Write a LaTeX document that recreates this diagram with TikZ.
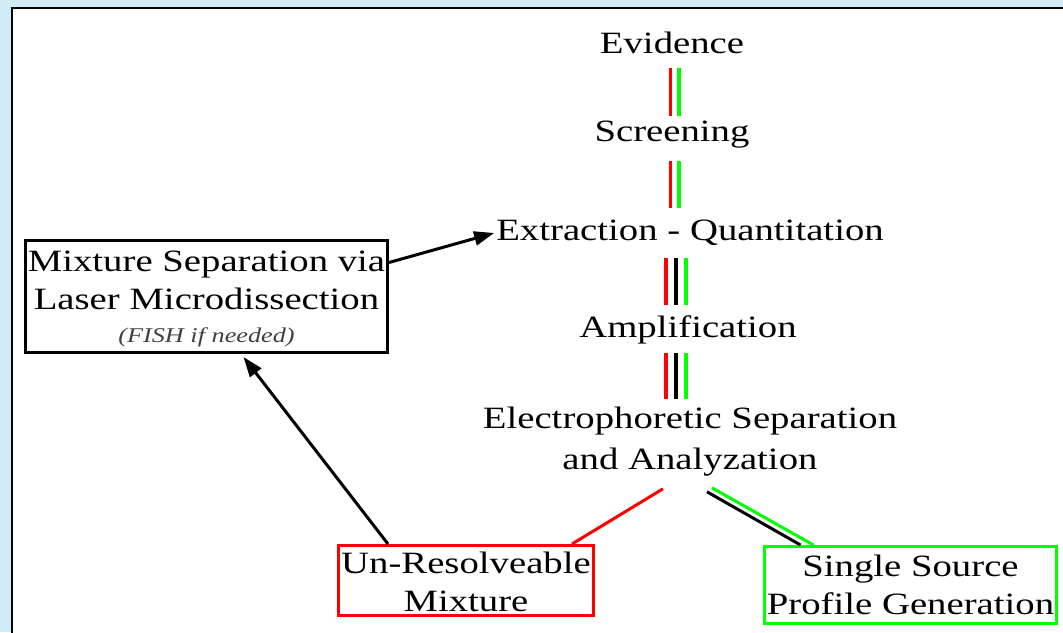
\documentclass[tikz,border=0pt]{standalone}
\usepackage{fontspec}
\setmainfont[FakeStretch=1.25]{Liberation Serif}
\usetikzlibrary{arrows.meta}

\definecolor{framebg}{RGB}{208,235,243}
\definecolor{railred}{RGB}{255,0,0}
\definecolor{railgreen}{RGB}{0,255,0}

\tikzset{
  stage/.style={font=\fontsize{31}{38}\selectfont, inner sep=0pt,
    text height=20pt, text depth=6pt},
  outcome/.style={draw, line width=3pt, align=center, inner sep=0pt,
    font=\fontsize{31}{38}\selectfont},
  rail/.style={line width=3.8pt},
  flow/.style={line width=3pt, -{Triangle[length=20pt,width=14pt]}},
}

\begin{document}
\begin{tikzpicture}[x=1pt,y=-1pt]
  \useasboundingbox (0,0) rectangle (1063,632);
  \clip (0,0) rectangle (1063,632);
  \fill[framebg] (0,0) rectangle (1063,632);
  \filldraw[fill=white, draw=black, line width=2pt] (12,8) rectangle (1080,650);

  % processing steps
  \node[stage] (evid) at (672,46) {Evidence};
  \node[stage] (scr)  at (672,134) {Screening};
  \node[stage] (extr) at (690,233) {Extraction - Quantitation};
  \node[stage] (ampl) at (688,330) {Amplification};
  \node[align=center, inner sep=0pt, font=\fontsize{31}{41}\selectfont]
    (elec) at (690,442) {Electrophoretic Separation\\and Analyzation};

  % outcomes
  \node[outcome, minimum width=362pt, minimum height=112pt] (mixsep) at (206.5,296.5)
    {\rule{0pt}{26pt}Mixture Separation via\\Laser Microdissection\\[-5pt]
     {\fontsize{21}{24}\selectfont\itshape\color{black!75}(FISH if needed)}};
  \node[outcome, draw=railred, minimum width=255pt, minimum height=70pt]
    (unres) at (466,580.5) {\rule{0pt}{24pt}Un-Resolveable\\Mixture};
  \node[outcome, draw=railgreen, minimum width=292pt, minimum height=77pt]
    (single) at (910.5,585) {Single Source\\Profile Generation};

  % red / green rails
  \draw[rail, railred, shorten <=9pt, shorten >=5pt]
    ([xshift=-1.5pt]evid.south) -- ([xshift=-1.5pt]scr.north);
  \draw[rail, railgreen, shorten <=9pt, shorten >=5pt]
    ([xshift=7pt]evid.south) -- ([xshift=7pt]scr.north);
  \draw[rail, railred, shorten <=14pt, shorten >=12pt]
    ([xshift=-1.5pt]scr.south) -- ([xshift=-1.5pt]scr.south |- extr.north);
  \draw[rail, railgreen, shorten <=14pt, shorten >=12pt]
    ([xshift=7pt]scr.south) -- ([xshift=7pt]scr.south |- extr.north);

  % red / black / green rails
  \foreach \dx/\col in {-24/railred, -14/black, -4/railgreen} {
    \draw[rail, \col, shorten <=12pt, shorten >=12pt]
      ([xshift=\dx pt]extr.south) -- ([xshift=\dx pt]extr.south |- ampl.north);
    \draw[rail, \col, shorten <=10pt, shorten >=8pt]
      ([xshift=\dx pt]extr.south |- ampl.south) -- ([xshift=\dx pt]extr.south |- elec.north);
  }

  % split after analysis
  \draw[line width=3pt, railred]
    ([xshift=-27pt,yshift=-12pt]elec.south) -- ([xshift=106pt]unres.north);
  \draw[line width=3pt, black]
    ([xshift=17pt,yshift=-15pt]elec.south) -- ([xshift=-110pt]single.north);
  \draw[line width=3pt, railgreen]
    ([xshift=22pt,yshift=-11pt]elec.south) -- ([xshift=-97pt]single.north);

  % loop back
  \draw[flow] ([xshift=-78pt]unres.north) -- ([xshift=37pt,yshift=-3pt]mixsep.south);
  \draw[flow] ([yshift=34pt]mixsep.east) -- ([xshift=-2pt]extr.west);
\end{tikzpicture}
\end{document}
